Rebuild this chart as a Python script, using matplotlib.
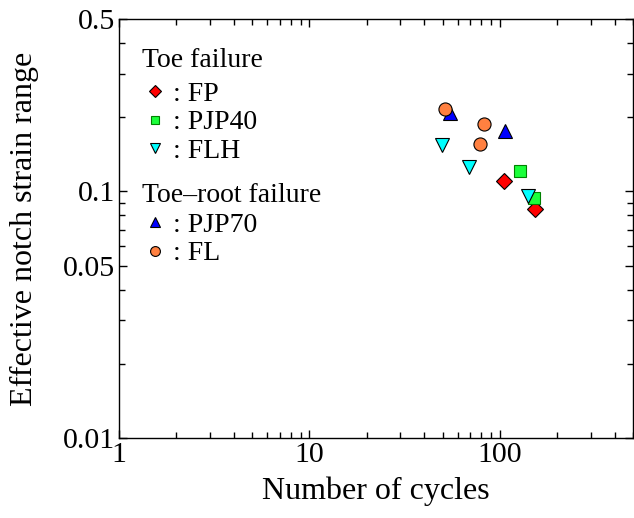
import numpy as np
import matplotlib.pyplot as plt
from matplotlib.ticker import LogLocator, FixedLocator, NullFormatter, FixedFormatter

plt.rcParams['font.family'] = ['Liberation Serif', 'DejaVu Serif']
plt.rcParams['mathtext.fontset'] = 'stix'

# (cycles, strain range)
fp_n = [104.5, 153]
fp_e = [0.110, 0.0846]
pjp40_n = [127, 151]
pjp40_e = [0.121, 0.0942]
flh_n = [49.6, 68.5, 141]
flh_e = [0.154, 0.126, 0.0958]
pjp70_n = [54.4, 107]
pjp70_e = [0.207, 0.175]
fl_n = [51.6, 82.7, 78.8]
fl_e = [0.215, 0.187, 0.156]

y_major = [0.01, 0.05, 0.1, 0.5]
y_major_labels = ['0.01', '0.05', '0.1', '0.5']
x_major = [1, 10, 100]
x_major_labels = ['1', '10', '100']

fig = plt.figure(figsize=(6.34, 5.18), dpi=100)
ax = fig.add_axes([119/634, 80/518, 514/634, 419/518])
ax.set_xscale('log')
ax.set_yscale('log')

ms = 9
h_toe = []
h_toe.append(ax.plot(fp_n, fp_e, 'D', ms=ms*0.85, mfc='#ff0000', mec='#000000', mew=0.8, ls='none', label=': FP')[0])
h_toe.append(ax.plot(pjp40_n, pjp40_e, 's', ms=ms*0.9, mfc='#1aff3a', mec='#008000', mew=0.8, ls='none', label=': PJP40')[0])
h_toe.append(ax.plot(flh_n, flh_e, 'v', ms=ms*1.05, mfc='#00ffff', mec='#000000', mew=0.8, ls='none', label=': FLH')[0])
h_root = []
h_root.append(ax.plot(pjp70_n, pjp70_e, '^', ms=ms*1.05, mfc='#0000ff', mec='#000000', mew=0.8, ls='none', label=': PJP70')[0])
h_root.append(ax.plot(fl_n, fl_e, 'o', ms=ms*1.05, mfc='#ff8040', mec='#000000', mew=0.8, ls='none', label=': FL')[0])

ax.set_xlim(1, 500)
ax.set_ylim(0.01, 0.5)

ax.xaxis.set_major_locator(FixedLocator(x_major))
ax.xaxis.set_major_formatter(FixedFormatter(x_major_labels))
ax.xaxis.set_minor_locator(LogLocator(base=10, subs=np.arange(2, 10)))
ax.xaxis.set_minor_formatter(NullFormatter())
ax.yaxis.set_major_locator(FixedLocator(y_major))
ax.yaxis.set_major_formatter(FixedFormatter(y_major_labels))
ax.yaxis.set_minor_locator(LogLocator(base=10, subs=np.arange(2, 10)))
ax.yaxis.set_minor_formatter(NullFormatter())

ax.tick_params(which='both', direction='in', top=True, right=True, labelsize=21.5, width=1.0)
ax.tick_params(which='major', length=6, pad=3)
ax.tick_params(which='minor', length=4.2)
for s in ax.spines.values():
    s.set_linewidth(1.0)

ax.set_xlabel('Number of cycles', fontsize=23, labelpad=6)
ax.set_ylabel('Effective notch strain range', fontsize=23, labelpad=17)

leg_kw = dict(frameon=False, fontsize=20, title_fontsize=20, alignment='left',
              handlelength=0.9, handletextpad=0.2, borderaxespad=0.0,
              labelspacing=0.12, markerscale=0.75, borderpad=0.0)
leg1 = ax.legend(handles=h_toe, title='Toe failure', loc='upper left',
                 bbox_to_anchor=(0.045, 0.93), **leg_kw)
leg1._legend_box.sep = 5.6  # extra gap under the group title
ax.add_artist(leg1)
leg2 = ax.legend(handles=h_root, title='Toe\u2013root failure', loc='upper left',
                 bbox_to_anchor=(0.045, 0.608), **leg_kw)
leg2._legend_box.sep = 2.8

fig.savefig('out.png', dpi=100)
